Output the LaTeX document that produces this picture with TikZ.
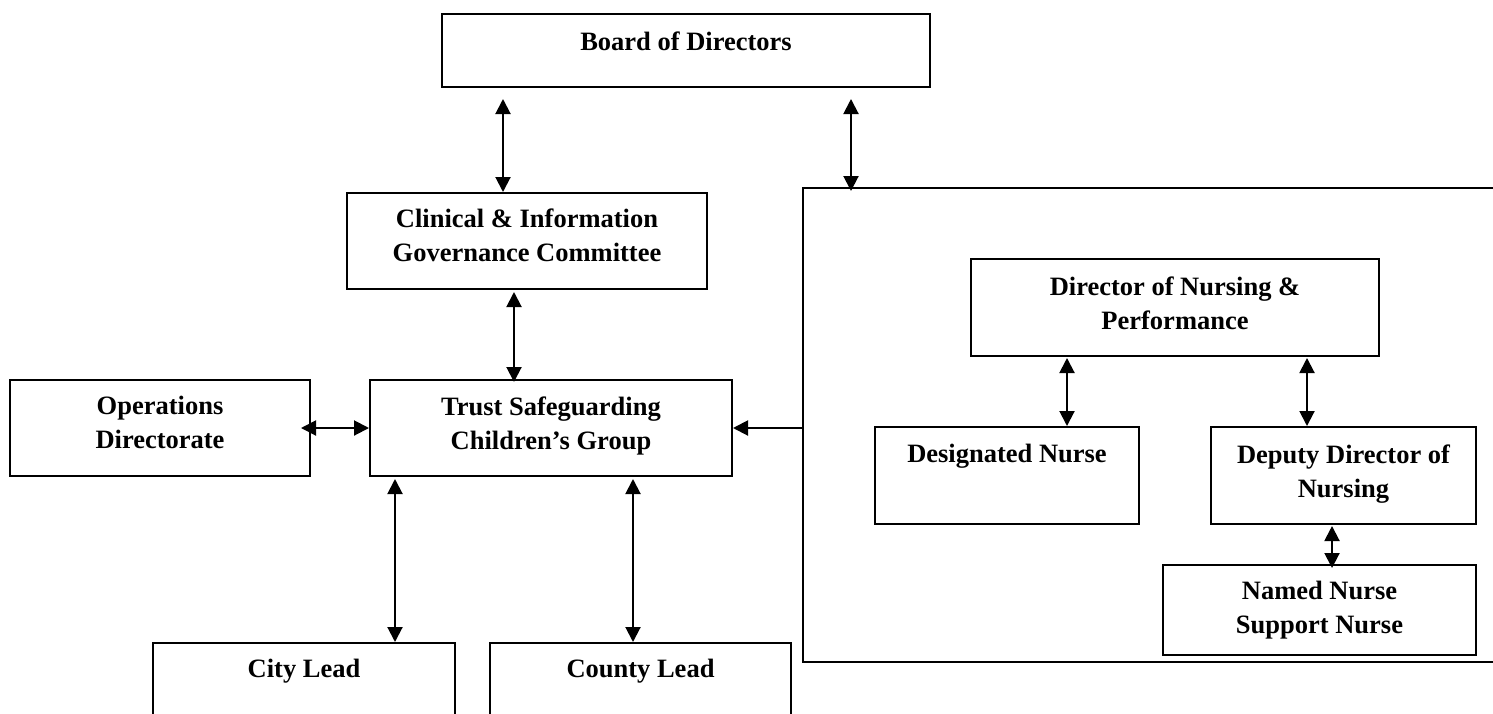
\documentclass[tikz,border=0pt]{standalone}
\usepackage{fontspec}
\setmainfont{Liberation Serif}
\usetikzlibrary{positioning,fit,arrows.meta}

\begin{document}
\begin{tikzpicture}[x=0.5pt,y=-0.5pt,
        box/.style={draw=black,line width=1pt,inner sep=0pt},
        txt/.style={inner sep=0pt,align=center,
                    font=\fontsize{13.25}{17}\selectfont\bfseries},
        link/.style={line width=1pt,
                    {Triangle[length=7.5pt,width=7.5pt]}-{Triangle[length=7.5pt,width=7.5pt]}},
        feed/.style={line width=1pt,-{Triangle[length=7.5pt,width=7.5pt]}}]
        \clip (0,0) rectangle (1493,713);

        \node[box,fit={(442,14) (930,87)}] (board) {};
        \node[box,fit={(347,193) (707,289)}] (clin) {};
        \node[box,fit={(803,188) (1530,662)}] (nursing) {};
        \node[box,fit={(10,380) (310,476)}] (ops) {};
        \node[box,fit={(370,380) (732,476)}] (trust) {};
        \node[box,fit={(153,643) (455,760)}] (city) {};
        \node[box,fit={(490,643) (791,760)}] (county) {};
        \node[box,fit={(971,259) (1379,356)}] (dir) {};
        \node[box,fit={(875,427) (1139,524)}] (desig) {};
        \node[box,fit={(1211,427) (1476,524)}] (deputy) {};
        \node[box,fit={(1163,565) (1476,655)}] (named) {};

        \node[txt,below=9pt of board.north] (boardtxt) {Board of Directors};
        \node[txt,below=8pt of clin.north] (clintxt) {Clinical \& Information\\Governance Committee};
        \node[txt,below=8.5pt of ops.north] (opstxt) {Operations\\Directorate};
        \node[txt,below=8.5pt of trust.north] (trusttxt) {Trust Safeguarding\\Children’s Group};
        \node[txt,below=8.5pt of city.north] (citytxt) {City Lead};
        \node[txt,below=8.5pt of county.north] (countytxt) {County Lead};
        \node[txt,below=9pt of dir.north] (dirtxt) {Director of Nursing \&\\Performance};
        \node[txt,below=9pt of desig.north] (desigtxt) {Designated Nurse};
        \node[txt,below=9pt of deputy.north] (deputytxt) {Deputy Director of\\Nursing};
        \node[txt,below=8.5pt of named.north] (namedtxt) {Named Nurse\\Support Nurse};

        \coordinate (boardL) at (503,0);
        \coordinate (boardR) at (851,0);
        \coordinate (clinB) at (514,0);
        \coordinate (trustL) at (395,0);
        \coordinate (trustR) at (633,0);
        \coordinate (dirL) at (1067,0);
        \coordinate (dirR) at (1307,0);
        \coordinate (deputyB) at (1332,0);

        \draw[link,shorten <=5.5pt] (board.south -| boardL) -- (clin.north -| boardL);
        \draw[link,shorten <=5.5pt,shorten >=-2pt] (board.south -| boardR) -- (nursing.north -| boardR);
        \draw[link,shorten <=1pt,shorten >=-1.5pt] (clin.south -| clinB) -- (trust.north -| clinB);
        \draw[link,shorten <=-5pt] (ops.east) -- (trust.west);
        \draw[feed] (nursing.west |- trust.east) -- (trust.east);
        \draw[link,shorten <=1pt] (trust.south -| trustL) -- (city.north -| trustL);
        \draw[link,shorten <=1pt] (trust.south -| trustR) -- (county.north -| trustR);
        \draw[link,shorten <=0.5pt] (dir.south -| dirL) -- (desig.north -| dirL);
        \draw[link,shorten <=0.5pt] (dir.south -| dirR) -- (deputy.north -| dirR);
        \draw[link,shorten <=0.5pt,shorten >=-2pt] (deputy.south -| deputyB) -- (named.north -| deputyB);
      \end{tikzpicture}
\end{document}
